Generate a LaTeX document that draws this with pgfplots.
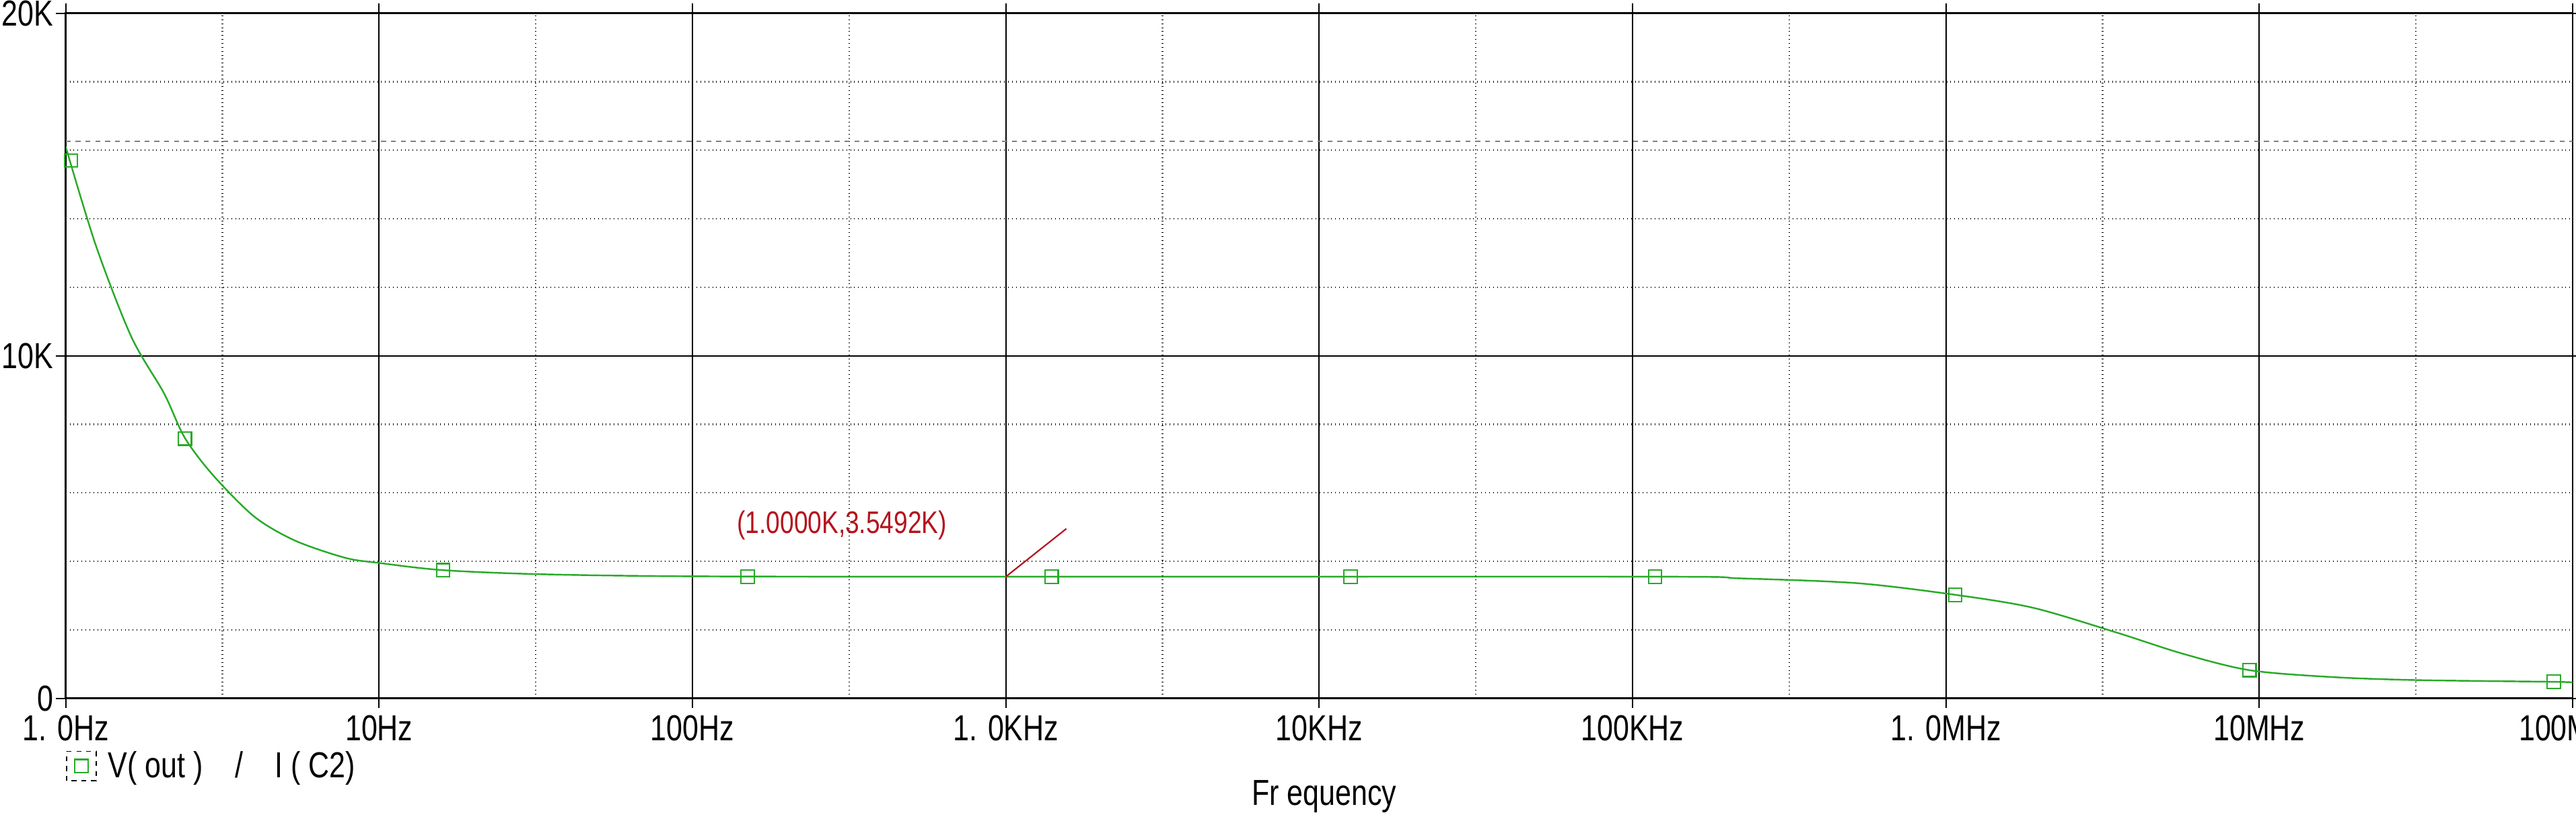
\documentclass[border=0pt]{standalone}
\usepackage{fontspec}
\setmainfont{Liberation Sans}
\newfontfamily\cond[FakeStretch=0.8]{Liberation Sans}
\usepackage{pgfplots}
\pgfplotsset{compat=1.18}
\definecolor{sgreen}{RGB}{40,170,40}
\definecolor{sred}{RGB}{180,20,30}
\begin{document}
\begin{tikzpicture}[x=1pt,y=1pt]
\begin{axis}[
  at={(40pt,-425pt)}, anchor=south west,
  scale only axis, width=1526pt, height=417pt,
  xmode=log, xmin=1, xmax=1e8, ymin=0, ymax=20000,
  xtick={1,10,100,1000,10000,100000,1000000,10000000,100000000},
  xticklabels={1. 0Hz,10Hz,100Hz,1. 0KHz,10KHz,100KHz,1. 0MHz,10MHz,100MHz},
  minor xtick={3.162,31.62,316.2,3162,31623,316228,3162278,31622777},
  ytick={0,10000,20000}, yticklabels={0,10K,20K},
  minor ytick={2000,4000,6000,8000,12000,14000,16000,18000},
  scaled y ticks=false,
  grid=both,
  major grid style={black, line width=0.8pt},
  minor grid style={black, dotted, line width=1pt},
  axis line style={black, line width=1pt},
  tick align=outside, major tick length=6pt, minor tick length=0pt,
  tick style={black, line width=0.8pt},
  ticklabel style={font=\cond\fontsize{22}{24}\selectfont},
  xticklabel style={yshift=-1pt},
  yticklabel style={xshift=2pt},
  log ticks with fixed point,
  legend style={at={(-0.002,-0.068)}, anchor=north west, draw=none, fill=none,
    font=\cond\fontsize{22}{24}\selectfont},
  legend image code/.code={
    \draw[black, dashed, line width=0.7pt] (0pt,-9pt) rectangle (18pt,9pt);
    \draw[sgreen, line width=0.9pt] (5pt,-4pt) rectangle (13pt,4pt);
  },
]
\addplot[gray, dashed, line width=1pt, forget plot] coordinates {(1,16260) (1e8,16260)};
\addplot[sgreen, line width=1pt, smooth, forget plot] coordinates {
(1,16100) (1.25,13200) (1.62,10550) (2.06,8900) (2.4,7600) (2.96,6500)
(4.0,5300) (5.4,4600) (7.8,4100) (10,3950) (16,3740) (33,3620) (100,3560)
(1000,3549) (118000,3550) (220000,3500) (520000,3360) (1070000,3020)
(1900000,2640) (3500000,1920) (5700000,1300) (9300000,820) (17000000,620)
(32000000,530) (87000000,480) (100000000,460)};
\addplot[sgreen, only marks, mark=square, mark size=4pt, line width=0.9pt] coordinates {
(1.04,15700) (2.4,7580) (16,3740) (150,3550) (1400,3550) (12600,3550)
(118000,3550) (1070000,3020) (9300000,820) (87000000,480)};
\addlegendentry{\ V( out )\ \ \ \ /\ \ \ \ I ( C2)}
\addplot[sred, line width=0.9pt, forget plot] coordinates {(1000,3549) (1560,4950)};
\node[sred, font=\cond\fontsize{19}{21}\selectfont, anchor=south] at (axis cs:300,4450) {(1.0000K,3.5492K)};
\end{axis}
\node[font=\cond\fontsize{22}{24}\selectfont] at (806,-485) {Fr equency};
\pgfresetboundingbox
\useasboundingbox (0,0) rectangle (1568,-497);
\end{tikzpicture}
\end{document}
